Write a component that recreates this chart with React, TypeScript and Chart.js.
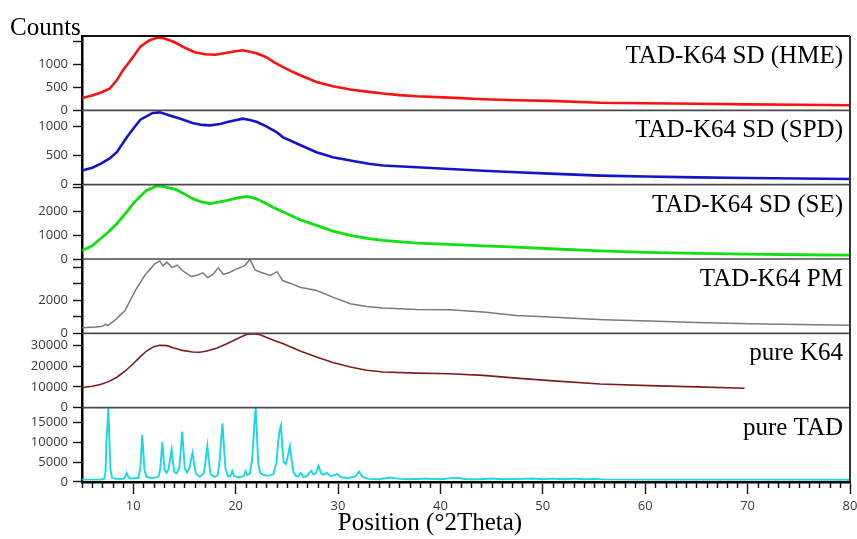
import React, { useEffect, useRef } from "react";
import { Chart, registerables } from "chart.js";

Chart.register(...registerables);

// Diffractograms as [2θ (degrees), counts] pairs
const hmeCounts: [number, number][] = [
  [5, 267], [6, 320], [6.8, 380], [7.7, 470], [8.4, 650], [9, 870], [10, 1160], [10.7, 1380],
  [11.6, 1520], [12.4, 1575], [13, 1560], [14, 1480], [15, 1360], [16, 1260], [17, 1215],
  [18, 1205], [19, 1240], [20, 1280], [20.7, 1300], [21.4, 1270], [22.1, 1230], [23, 1150],
  [23.7, 1050], [24.5, 950], [25.5, 840], [26.3, 760], [27.9, 615], [29.5, 520], [31.2, 450],
  [33, 400], [34.4, 363], [36, 330], [37.7, 305], [40.9, 275], [44.2, 240], [47.4, 217],
  [50.7, 205], [55.6, 165], [60, 155], [65, 142], [70, 130], [75, 120], [80, 110],
];

const spdCounts: [number, number][] = [
  [5, 241], [6, 290], [6.8, 356], [7.7, 450], [8.4, 557], [9.4, 816], [10, 960], [10.7, 1115],
  [11.9, 1230], [12.6, 1240], [13.5, 1190], [14.6, 1130], [15.8, 1057], [16.7, 1025],
  [17.5, 1017], [18.5, 1040], [19.2, 1074], [20.7, 1132], [21.4, 1110], [22.1, 1074],
  [23, 1000], [24, 902], [24.6, 816], [26.3, 680], [27.9, 557], [29.5, 470], [31.2, 414],
  [33, 360], [34.4, 328], [37.7, 299], [40.9, 270], [44.2, 240], [47.4, 212], [50.7, 190],
  [55.6, 155], [60, 140], [65, 125], [70, 115], [75, 105], [80, 98],
];

const seCounts: [number, number][] = [
  [5, 360], [6, 560], [6.8, 856], [7.6, 1150], [8.4, 1490], [9.2, 1900], [10, 2340],
  [10.7, 2650], [11.3, 2900], [12.3, 3090], [13, 3060], [14.2, 2930], [15, 2750], [15.8, 2550],
  [16.6, 2420], [17.5, 2340], [18.3, 2400], [19.2, 2480], [20.2, 2580], [21.1, 2640],
  [21.9, 2560], [22.7, 2410], [23.6, 2200], [24.6, 2000], [26.3, 1660], [27.9, 1420],
  [29.5, 1180], [31.2, 996], [32.8, 870], [34.4, 784], [37.7, 670], [40.9, 614], [44.2, 555],
  [47.4, 500], [50.7, 432], [55.6, 340], [60, 280], [65, 235], [70, 205], [75, 180], [80, 160],
];

const pmCounts: [number, number][] = [
  [5, 345], [6.3, 380], [7, 430], [7.3, 560], [7.5, 470], [8.2, 790], [9.2, 1390], [10.2, 2600],
  [11.1, 3500], [12.1, 4220], [12.6, 4400], [12.9, 4100], [13.3, 4330], [13.8, 4000],
  [14.3, 4150], [14.8, 3820], [15.7, 3450], [16.3, 3550], [16.8, 3680], [17.3, 3380],
  [17.8, 3600], [18.3, 3980], [18.8, 3580], [19.4, 3700], [19.9, 3860], [20.9, 4120],
  [21.4, 4500], [21.9, 3860], [22.5, 3700], [23.4, 3520], [24.05, 3750], [24.6, 3210],
  [25.3, 3050], [26.3, 2800], [27.9, 2600], [29.5, 2200], [31.2, 1800], [32.8, 1630],
  [34.4, 1535], [37.7, 1450], [40.9, 1435], [44.2, 1290], [47.4, 1090], [50.7, 990],
  [53.9, 890], [56, 830], [60.4, 745], [65, 660], [70.2, 590], [75, 540], [80, 485],
];

const k64Counts: [number, number][] = [
  [5, 9700], [6, 10300], [6.8, 11100], [7.6, 12500], [8.4, 14600], [9.2, 17500], [10, 21100],
  [10.7, 24500], [11.3, 27200], [12, 29300], [12.6, 30000], [13.3, 29800], [13.9, 28800],
  [14.8, 27500], [15.8, 26700], [16.5, 26600], [17.2, 27200], [18.2, 28700], [19.2, 30800],
  [20.2, 33200], [21.1, 35200], [21.7, 35500], [22.4, 35000], [23.7, 32400], [24.6, 30800],
  [26.3, 27200], [27.9, 24300], [29.5, 21700], [31.2, 19500], [32.8, 18000], [34.4, 17100],
  [37.7, 16600], [40.9, 16300], [44.2, 15500], [47.4, 14200], [50.7, 13000], [55.6, 11400],
  [60.4, 10600], [65, 10000], [69.7, 9300],
];

const tadCounts: [number, number][] = [
  [5, 600], [6, 600], [6.8, 620], [7.15, 750], [7.3, 2500], [7.4, 11000], [7.47, 13500],
  [7.57, 18700], [7.67, 11000], [7.77, 3500], [7.92, 1100], [8.3, 800], [9.05, 800],
  [9.22, 1400], [9.36, 2300], [9.5, 1400], [9.7, 850], [10.5, 1000], [10.68, 3200],
  [10.8, 8000], [10.88, 11900], [10.98, 8000], [11.1, 3000], [11.3, 1300], [11.8, 1000],
  [12.3, 1150], [12.5, 1500], [12.65, 3500], [12.75, 7000], [12.85, 10100], [12.95, 6500],
  [13.07, 3000], [13.25, 2300], [13.45, 3200], [13.62, 6000], [13.76, 8200], [13.88, 5000],
  [14.02, 2500], [14.25, 2200], [14.5, 3500], [14.65, 8000], [14.78, 12750], [14.9, 8500],
  [15.03, 3500], [15.25, 2400], [15.5, 3500], [15.67, 6000], [15.8, 7400], [15.95, 4500],
  [16.15, 2000], [16.5, 1300], [16.9, 2200], [17.08, 5500], [17.24, 9100], [17.38, 5500],
  [17.55, 2000], [17.9, 1300], [18.25, 1700], [18.45, 5500], [18.6, 11000], [18.72, 14800],
  [18.85, 9500], [19.0, 3500], [19.25, 1400], [19.5, 1500], [19.68, 2750], [19.85, 1500],
  [20.3, 1150], [20.8, 1500], [20.98, 2750], [21.15, 1700], [21.4, 2200], [21.6, 5500],
  [21.75, 11000], [21.87, 16000], [21.96, 18700], [22.07, 13000], [22.2, 5000], [22.4, 2300],
  [22.8, 1700], [23.3, 1600], [23.7, 2000], [24.0, 5000], [24.15, 10000], [24.3, 13000],
  [24.43, 14250], [24.56, 9000], [24.7, 5000], [24.9, 4500], [25.1, 6500], [25.3, 9100],
  [25.45, 6000], [25.65, 2500], [25.9, 1500], [26.1, 1400], [26.35, 2300], [26.6, 1300],
  [27, 1500], [27.2, 2300], [27.4, 2800], [27.6, 1900], [27.85, 2300], [28.1, 4100],
  [28.35, 2200], [28.6, 1800], [28.9, 2300], [29.3, 1500], [29.6, 1700], [29.9, 2000],
  [30.3, 1200], [31, 1000], [31.7, 1400], [32.05, 2600], [32.4, 1300], [33, 800], [34, 700],
  [35.1, 1150], [36, 800], [37, 700], [38.5, 850], [40, 700], [41.6, 1100], [42.5, 700],
  [44, 700], [45, 900], [46, 700], [48, 800], [49, 900], [50, 700], [51, 850], [52, 700],
  [53, 850], [54, 700], [55, 800], [56, 650], [60, 600], [65, 600], [70, 600], [75, 600],
  [80, 550],
];

// Axis ticks
const xTicks = [10, 20, 30, 40, 50, 60, 70, 80];
const hmeTicks = [0, 500, 1000, 1500];
const hmeTickLabels = [0, 500, 1000];
const spdTicks = [0, 500, 1000];
const spdTickLabels = [0, 500, 1000];
const seTicks = [0, 1000, 2000, 3000];
const seTickLabels = [0, 1000, 2000];
const pmTicks = [0, 1000, 2000, 3000, 4000];
const pmTickLabels = [0, 2000];
const k64Ticks = [0, 10000, 20000, 30000];
const k64TickLabels = [0, 10000, 20000, 30000];
const tadTicks = [0, 5000, 10000, 15000];
const tadTickLabels = [0, 5000, 10000, 15000];

// Panels from top to bottom
const panels = [
  { id: "yHME", name: "TAD-K64 SD (HME)", data: hmeCounts, max: 1610, ticks: hmeTicks, labels: hmeTickLabels, color: "#ff1010", width: 2.6 },
  { id: "ySPD", name: "TAD-K64 SD (SPD)", data: spdCounts, max: 1275, ticks: spdTicks, labels: spdTickLabels, color: "#1414c8", width: 2.6 },
  { id: "ySE", name: "TAD-K64 SD (SE)", data: seCounts, max: 3140, ticks: seTicks, labels: seTickLabels, color: "#10e010", width: 2.8 },
  { id: "yPM", name: "TAD-K64 PM", data: pmCounts, max: 4520, ticks: pmTicks, labels: pmTickLabels, color: "#7a7a7a", width: 1.5 },
  { id: "yK64", name: "pure K64", data: k64Counts, max: 35700, ticks: k64Ticks, labels: k64TickLabels, color: "#7e1c1c", width: 1.6 },
  { id: "yTAD", name: "pure TAD", data: tadCounts, max: 18750, ticks: tadTicks, labels: tadTickLabels, color: "#18d8e0", width: 1.9 },
];

const tickFont = { family: "'Open Sans', sans-serif", size: 13 };
const tickColor = "#3a3a3a";
const serif = "'Liberation Serif', 'Times New Roman', serif";

const frame = {
  id: "xrdFrame",
  afterDraw(chart: any) {
    const { ctx, chartArea: a, scales } = chart;
    ctx.save();
    const hline = (y: number, color: string, w: number) => {
      ctx.beginPath();
      ctx.strokeStyle = color;
      ctx.lineWidth = w;
      ctx.moveTo(a.left, y);
      ctx.lineTo(a.right, y);
      ctx.stroke();
    };
    panels.forEach((p, i) => {
      if (i < panels.length - 1) hline(scales[p.id].bottom, "#4a4a4a", 1.6);
    });
    hline(a.top, "#111", 2.2);
    ctx.beginPath();
    ctx.strokeStyle = "#333";
    ctx.lineWidth = 2;
    ctx.moveTo(a.right, a.top);
    ctx.lineTo(a.right, a.bottom);
    ctx.stroke();

    // minor ticks every degree
    const xs = scales.x;
    ctx.beginPath();
    ctx.strokeStyle = "#111";
    ctx.lineWidth = 1.4;
    for (let v = Math.ceil(xs.min); v <= xs.max; v++) {
      if (v % 10 === 0) continue;
      const px = Math.round(xs.getPixelForValue(v)) + 0.5;
      ctx.moveTo(px, a.bottom);
      ctx.lineTo(px, a.bottom + 6);
    }
    ctx.stroke();

    ctx.fillStyle = "#000";
    ctx.font = `25px ${serif}`;
    ctx.textBaseline = "alphabetic";
    ctx.textAlign = "right";
    panels.forEach((p) => {
      ctx.fillText(p.name, 843, scales[p.id].top + 27);
    });
    ctx.textAlign = "left";
    ctx.fillText("Counts", 10, 35);
    ctx.textAlign = "center";
    ctx.fillText("Position (\u00b02Theta)", 430, 530);
    ctx.restore();
  },
};

export default function App() {
  const canvasRef = useRef<HTMLCanvasElement | null>(null);

  useEffect(() => {
    if (!canvasRef.current) return;
    const scales: any = {
      x: {
        type: "linear",
        min: 5,
        max: 80,
        afterBuildTicks: (s: any) => {
          s.ticks = xTicks.map((v) => ({ value: v }));
        },
        afterFit: (s: any) => {
          s.height = 57;
          s.paddingLeft = 0;
          s.paddingRight = 0;
        },
        grid: { drawOnChartArea: false, tickLength: 12, tickColor: "#111", tickWidth: 1.4 },
        border: { color: "#000", width: 2.5 },
        ticks: { font: tickFont, color: tickColor, padding: 4, maxRotation: 0, autoSkip: false },
      },
    };
    panels.forEach((p, i) => {
      scales[p.id] = {
        type: "linear",
        position: "left",
        stack: "xrd",
        stackWeight: 1,
        weight: panels.length - i,
        min: 0,
        max: p.max,
        afterBuildTicks: (s: any) => {
          s.ticks = p.ticks.map((v) => ({ value: v }));
        },
        afterFit: (s: any) => {
          s.width = 82;
          s.paddingTop = 0;
          s.paddingBottom = 0;
        },
        grid: { drawOnChartArea: false, tickLength: 9, tickColor: "#111", tickWidth: 1.4 },
        border: { color: "#000", width: 2.5 },
        ticks: {
          font: tickFont,
          color: tickColor,
          padding: 5,
          autoSkip: false,
          callback: (v: any) => (p.labels.includes(Number(v)) ? String(v) : ""),
        },
      };
    });

    const chart = new Chart(canvasRef.current, {
      type: "line",
      data: {
        datasets: panels.map((p) => ({
          label: p.name,
          data: p.data.map(([x, y]) => ({ x, y })),
          yAxisID: p.id,
          borderColor: p.color,
          borderWidth: p.width,
          pointRadius: 0,
          tension: 0,
          fill: false,
        })),
      },
      options: {
        animation: false,
        responsive: true,
        maintainAspectRatio: false,
        layout: { padding: { top: 36, right: 7, left: 0, bottom: 0 } },
        plugins: { legend: { display: false }, tooltip: { enabled: false }, title: { display: false } },
        scales,
      } as any,
      plugins: [frame],
    });
    return () => chart.destroy();
  }, []);

  return (
    <div style={{ position: "absolute", left: 0, top: 0, width: 857, height: 539, background: "#fff" }}>
      <canvas ref={canvasRef} />
    </div>
  );
}
